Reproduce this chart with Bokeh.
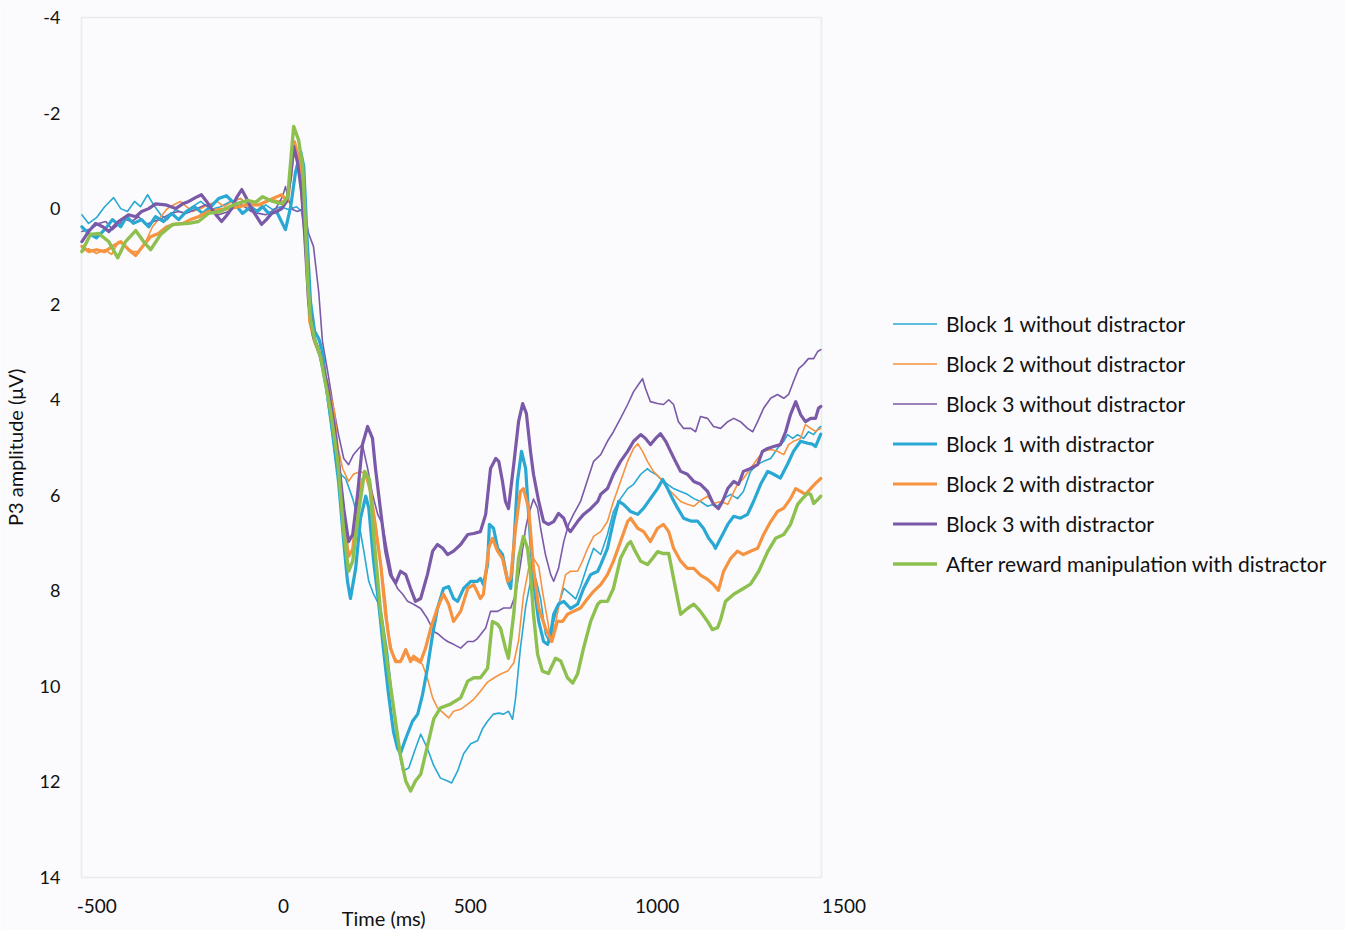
from bokeh.plotting import figure
from bokeh.models import (Range1d, FixedTicker, BoxAnnotation, Label, Legend,
                          LegendItem, ColumnDataSource)
from bokeh.embed import file_html
from bokeh.resources import INLINE

# Grand-average P3 waveforms: (time in ms, amplitude in microvolts)
block1_without = [(-540,0.13),(-522,0.31),(-501,0.19),(-479,-0.04),(-455,-0.23),(-436,0.00),(-418,0.06),(-399,-0.15),(-383,-0.04),(-364,-0.29),(-348,-0.08),(-329,0.13),(-311,0.23),(-289,0.02),(-268,0.10),(-244,-0.04),(-222,-0.15),(-195,0.02),(-169,-0.04),(-142,-0.15),(-115,-0.21),(-88,-0.04),(-67,0.06),(-48,-0.08),(-29,0.02),(-8,-0.04),(13,0.02),(35,-0.04),(48,0.06),(56,0.48),(64,1.53),(72,2.36),(86,2.74),(99,3.20),(112,3.72),(126,4.46),(139,5.25),(153,5.56),(166,5.65),(185,6.07),(201,6.55),(214,7.13),(228,7.80),(241,8.07),(260,8.36),(278,9.27),(292,10.31),(305,11.21),(319,11.77),(335,11.71),(353,11.30),(367,11.00),(385,11.30),(402,11.66),(420,11.92),(439,11.98),(450,12.02),(466,11.77),(482,11.41),(501,11.20),(519,11.14),(533,10.88),(546,10.73),(562,10.58),(576,10.56),(589,10.58),(602,10.52),(613,10.69),(621,10.25),(634,9.20),(648,8.33),(661,7.80),(675,7.74),(688,8.16),(701,8.91),(712,9.07),(723,8.64),(733,8.36),(750,7.95),(768,8.07),(782,8.17),(795,7.91),(814,7.45),(830,7.11),(849,7.24),(867,6.82),(883,6.34),(902,6.07),(921,5.86),(937,5.77),(956,5.56),(974,5.44),(982,5.50),(996,5.56),(1009,5.65),(1028,5.77),(1044,5.86),(1063,5.92),(1081,5.98),(1098,6.07),(1116,6.13),(1135,6.23),(1151,6.19),(1162,6.23),(1178,6.07),(1197,5.98),(1215,6.07),(1231,5.92),(1250,5.50),(1269,5.35),(1285,5.29),(1304,5.23),(1322,5.02),(1339,4.87),(1349,4.73),(1363,4.81),(1376,4.73),(1392,4.81),(1405,4.67),(1419,4.73),(1432,4.60),(1438,4.56)]

block2_without = [(-540,0.90),(-522,0.84),(-501,0.94),(-479,0.86),(-460,0.96),(-442,0.69),(-423,0.79),(-404,0.90),(-388,0.90),(-369,0.69),(-351,0.38),(-329,0.17),(-311,0.00),(-294,-0.08),(-276,-0.15),(-260,-0.04),(-244,0.06),(-222,0.00),(-201,-0.08),(-179,-0.15),(-158,-0.04),(-137,-0.15),(-115,-0.21),(-94,-0.04),(-72,0.06),(-51,-0.15),(-29,-0.19),(-8,-0.15),(8,-0.19),(27,-1.19),(40,-0.88),(51,0.06),(59,0.69),(70,2.32),(80,2.74),(94,2.89),(107,3.41),(126,4.04),(142,4.87),(158,5.44),(174,5.71),(187,5.56),(206,5.50),(220,5.56),(233,5.92),(246,6.55),(260,7.38),(273,8.22),(281,8.91),(292,9.33),(305,9.48),(319,9.43),(327,9.27),(340,9.41),(359,9.48),(372,9.54),(385,9.83),(399,10.24),(412,10.45),(428,10.56),(442,10.66),(455,10.52),(474,10.48),(493,10.37),(509,10.27),(527,10.10),(546,9.91),(562,9.83),(581,9.74),(600,9.68),(616,9.51),(629,9.05),(642,8.11),(656,7.53),(669,7.32),(683,7.49),(693,8.01),(707,8.63),(715,9.01),(728,8.68),(742,8.11),(755,7.66),(768,7.59),(787,7.59),(800,7.38),(814,7.11),(830,6.86),(849,6.76),(867,6.55),(883,6.13),(902,5.71),(921,5.29),(937,5.02),(948,4.92),(961,5.08),(974,5.29),(990,5.50),(1009,5.65),(1028,5.86),(1044,5.98),(1063,6.13),(1081,6.19),(1098,6.23),(1116,6.11),(1135,6.02),(1151,6.17),(1170,6.13),(1189,6.19),(1202,5.98),(1215,5.77),(1231,5.65),(1250,5.44),(1269,5.23),(1285,5.08),(1304,5.04),(1322,5.08),(1339,5.15),(1352,4.94),(1365,4.87),(1384,4.81),(1397,4.52),(1411,4.60),(1424,4.66),(1438,4.60)]

block3_without = [(-540,0.48),(-514,0.42),(-495,0.31),(-476,0.27),(-458,0.44),(-442,0.33),(-423,0.23),(-407,0.27),(-388,0.17),(-369,0.33),(-348,0.27),(-327,0.21),(-302,0.10),(-281,0.06),(-260,0.10),(-236,0.02),(-209,-0.08),(-193,0.00),(-174,0.13),(-147,0.06),(-128,-0.04),(-112,-0.08),(-86,0.06),(-67,0.10),(-48,0.13),(-21,0.00),(-3,-0.25),(5,-0.46),(13,-0.19),(24,0.02),(37,0.06),(54,0.00),(67,0.52),(80,0.79),(94,1.74),(104,2.78),(118,3.41),(134,4.18),(147,4.73),(161,5.23),(174,5.36),(187,5.15),(201,5.02),(211,4.94),(225,5.44),(238,5.98),(252,6.40),(265,6.61),(278,7.18),(292,7.74),(305,7.95),(319,8.07),(332,8.22),(348,8.28),(367,8.37),(385,8.58),(402,8.85),(415,8.91),(428,9.00),(439,9.06),(455,9.12),(474,9.20),(493,9.06),(509,9.06),(519,9.00),(541,8.78),(554,8.43),(573,8.43),(589,8.36),(608,8.36),(621,8.07),(634,7.45),(648,6.69),(656,6.40),(669,6.08),(680,6.27),(688,6.69),(701,7.24),(715,7.66),(723,7.80),(736,7.53),(750,6.97),(763,6.61),(776,6.40),(795,6.13),(814,5.67),(830,5.29),(849,5.15),(867,4.87),(883,4.67),(902,4.39),(921,4.10),(937,3.83),(950,3.68),(961,3.56),(969,3.77),(982,4.04),(1001,4.08),(1017,4.10),(1031,4.00),(1044,4.10),(1057,4.46),(1071,4.60),(1090,4.60),(1103,4.67),(1116,4.35),(1135,4.39),(1151,4.56),(1170,4.60),(1189,4.46),(1205,4.39),(1223,4.46),(1242,4.60),(1256,4.67),(1269,4.46),(1285,4.18),(1304,3.97),(1322,3.89),(1339,3.97),(1352,3.89),(1365,3.62),(1379,3.35),(1392,3.26),(1405,3.14),(1419,3.14),(1430,2.99),(1438,2.95)]

block1_with = [(-540,0.38),(-522,0.52),(-501,0.61),(-479,0.44),(-458,0.23),(-436,0.38),(-420,0.17),(-402,0.31),(-380,0.23),(-361,0.38),(-343,0.17),(-321,0.27),(-300,0.10),(-281,0.23),(-260,0.06),(-238,-0.04),(-217,0.10),(-195,-0.04),(-174,-0.21),(-153,-0.27),(-131,-0.10),(-110,0.10),(-88,-0.04),(-72,0.06),(-56,-0.04),(-40,0.10),(-19,0.06),(5,0.44),(19,-0.04),(32,-0.77),(46,-1.19),(54,-0.88),(62,0.48),(72,1.95),(83,2.57),(94,2.72),(104,2.99),(118,3.93),(134,4.87),(147,5.71),(161,6.97),(171,7.80),(179,8.16),(193,7.53),(206,6.48),(220,6.02),(228,6.27),(241,7.38),(254,8.22),(268,9.27),(281,10.17),(294,10.94),(305,11.30),(313,11.40),(327,11.09),(345,10.73),(359,10.58),(372,10.17),(385,9.62),(399,8.91),(412,8.37),(428,7.95),(442,7.91),(455,8.16),(466,8.22),(482,7.95),(501,7.80),(519,7.80),(527,7.74),(535,7.87),(546,7.45),(551,6.61),(562,6.69),(573,7.11),(586,7.24),(600,7.80),(608,7.95),(616,7.11),(626,5.71),(637,5.08),(648,5.44),(656,6.40),(669,7.80),(683,8.64),(696,9.06),(707,9.12),(715,8.91),(723,8.49),(736,8.28),(750,8.22),(768,8.37),(787,8.28),(803,7.95),(822,7.66),(841,7.59),(849,7.45),(867,7.11),(883,6.54),(897,6.13),(910,6.19),(929,6.34),(948,6.40),(964,6.27),(982,6.07),(1001,5.86),(1015,5.67),(1028,5.86),(1041,6.07),(1055,6.27),(1071,6.48),(1090,6.54),(1108,6.54),(1124,6.69),(1138,6.90),(1151,7.03),(1156,7.11),(1170,6.90),(1189,6.61),(1205,6.44),(1223,6.48),(1242,6.40),(1258,6.13),(1277,5.77),(1296,5.50),(1312,5.56),(1330,5.64),(1349,5.35),(1365,5.08),(1384,4.87),(1403,4.91),(1416,4.93),(1424,4.98),(1438,4.72)]

block2_with = [(-540,0.79),(-522,0.90),(-501,0.86),(-479,0.90),(-458,0.79),(-436,0.69),(-415,0.86),(-396,0.98),(-377,0.79),(-356,0.59),(-335,0.52),(-313,0.38),(-292,0.33),(-270,0.31),(-249,0.23),(-228,0.17),(-201,0.06),(-174,0.02),(-147,0.00),(-120,-0.04),(-94,-0.08),(-67,-0.08),(-46,-0.15),(-24,-0.23),(-5,-0.29),(11,-0.15),(29,-1.40),(43,-0.98),(54,0.17),(62,1.11),(70,2.36),(83,2.78),(99,3.10),(118,3.72),(134,4.25),(153,5.77),(166,6.82),(174,7.28),(185,7.13),(198,6.23),(211,5.67),(220,5.56),(233,5.92),(241,6.40),(260,7.45),(273,8.49),(286,9.20),(300,9.48),(313,9.48),(327,9.23),(340,9.48),(348,9.37),(367,9.48),(380,9.20),(394,8.78),(412,8.36),(428,8.07),(442,8.28),(455,8.64),(474,8.43),(493,7.95),(509,7.87),(527,8.16),(535,8.07),(549,7.11),(559,6.90),(573,7.17),(586,7.32),(600,7.80),(608,7.74),(621,6.69),(634,5.92),(642,5.86),(656,6.27),(669,7.53),(683,8.36),(701,8.78),(718,9.06),(733,8.64),(747,8.64),(760,8.49),(776,8.43),(795,8.36),(814,8.16),(830,8.01),(849,7.87),(867,7.66),(883,7.38),(902,6.97),(921,6.55),(929,6.48),(948,6.69),(964,6.76),(982,6.97),(1001,6.69),(1017,6.61),(1031,6.76),(1044,7.11),(1063,7.38),(1081,7.53),(1098,7.53),(1116,7.67),(1135,7.76),(1151,7.87),(1164,7.99),(1178,7.59),(1197,7.32),(1215,7.17),(1231,7.24),(1250,7.17),(1269,7.11),(1285,6.82),(1304,6.55),(1322,6.34),(1339,6.27),(1357,6.07),(1371,5.86),(1384,5.92),(1397,5.98),(1411,5.86),(1424,5.75),(1438,5.65)]

block3_with = [(-540,0.69),(-522,0.48),(-503,0.31),(-484,0.38),(-468,0.48),(-442,0.27),(-415,0.13),(-396,0.17),(-380,0.06),(-361,0.00),(-343,-0.10),(-316,-0.08),(-289,0.00),(-270,-0.10),(-254,-0.15),(-236,-0.23),(-220,-0.29),(-206,-0.15),(-193,0.00),(-179,0.15),(-166,0.27),(-153,0.15),(-139,0.00),(-126,-0.23),(-112,-0.40),(-99,-0.21),(-86,0.00),(-72,0.17),(-59,0.33),(-46,0.23),(-32,0.10),(-19,0.06),(-5,0.00),(8,-0.15),(19,-0.67),(27,-1.30),(37,-0.98),(48,-0.36),(56,0.48),(67,1.95),(80,2.68),(99,3.10),(118,3.72),(134,4.46),(147,5.29),(161,6.28),(174,6.97),(185,6.82),(198,5.98),(211,4.94),(225,4.56),(238,4.81),(246,5.44),(260,6.34),(273,7.17),(286,7.66),(300,7.84),(313,7.59),(327,7.66),(340,7.95),(353,8.22),(367,8.16),(385,7.66),(399,7.17),(412,7.03),(426,7.11),(439,7.24),(455,7.17),(474,7.03),(493,6.82),(509,6.80),(527,6.76),(541,6.40),(554,5.44),(568,5.23),(576,5.29),(586,5.71),(594,6.13),(602,6.28),(616,5.36),(629,4.46),(640,4.08),(650,4.29),(661,5.08),(669,5.56),(683,6.13),(696,6.55),(709,6.61),(723,6.55),(736,6.38),(750,6.48),(760,6.69),(768,6.76),(787,6.55),(803,6.40),(822,6.28),(841,6.13),(849,5.98),(867,5.86),(883,5.56),(902,5.29),(921,5.08),(937,4.87),(956,4.73),(969,4.81),(982,4.94),(996,4.81),(1009,4.71),(1023,4.87),(1036,5.08),(1049,5.29),(1063,5.50),(1081,5.56),(1098,5.71),(1116,5.77),(1135,5.92),(1151,6.19),(1164,6.28),(1175,6.13),(1189,5.86),(1205,5.71),(1218,5.77),(1231,5.50),(1250,5.44),(1269,5.36),(1282,5.08),(1296,5.02),(1312,4.98),(1330,4.94),(1344,4.67),(1357,4.31),(1371,4.04),(1384,4.31),(1397,4.46),(1411,4.39),(1424,4.39),(1432,4.18),(1438,4.14)]

after_reward_with = [(-540,0.90),(-517,0.54),(-495,0.52),(-468,0.69),(-444,1.03),(-423,0.69),(-396,0.46),(-375,0.69),(-356,0.86),(-329,0.54),(-297,0.33),(-254,0.31),(-228,0.27),(-201,0.10),(-169,0.06),(-128,-0.10),(-96,-0.17),(-75,-0.13),(-56,-0.25),(-29,-0.15),(-3,-0.10),(11,-0.25),(27,-1.72),(40,-1.44),(51,-0.88),(59,0.42),(64,1.46),(72,2.30),(83,2.74),(99,3.10),(126,4.25),(145,5.29),(161,6.76),(174,7.59),(185,7.38),(201,6.34),(217,5.50),(230,5.67),(241,6.82),(260,8.47),(278,9.54),(294,10.42),(313,11.46),(327,11.98),(340,12.19),(353,11.98),(367,11.84),(385,11.25),(402,10.68),(420,10.45),(447,10.37),(474,10.24),(493,9.89),(509,9.82),(527,9.82),(546,9.62),(559,8.64),(573,8.70),(581,8.79),(594,9.20),(602,9.41),(616,8.49),(629,7.32),(642,6.86),(653,7.11),(661,7.66),(669,8.49),(680,9.33),(693,9.68),(709,9.73),(728,9.41),(742,9.47),(760,9.82),(774,9.93),(787,9.74),(803,9.20),(822,8.64),(841,8.28),(849,8.22),(867,8.22),(883,7.95),(902,7.32),(921,7.03),(929,6.97),(942,7.18),(956,7.38),(974,7.45),(988,7.32),(1001,7.18),(1017,7.22),(1031,7.22),(1044,7.74),(1063,8.49),(1081,8.37),(1098,8.28),(1116,8.43),(1135,8.64),(1148,8.81),(1162,8.77),(1170,8.60),(1183,8.22),(1205,8.07),(1231,7.95),(1250,7.86),(1272,7.59),(1296,7.18),(1317,6.90),(1339,6.82),(1357,6.61),(1376,6.19),(1389,6.07),(1403,5.96),(1411,5.98),(1419,6.17),(1430,6.09),(1438,6.02)]

x_ticks = [-500, 0, 500, 1000, 1500]
y_ticks = [-4, -2, 0, 2, 4, 6, 8, 10, 12, 14]

# extent of the boxed plotting area (recording window and amplitude scale)
T_START, T_END = -541, 1440
UV_TOP, UV_BOTTOM = -4, 14

CYAN, ORANGE, PURPLE, GREEN = "#29a8d3", "#f59340", "#7a5aa8", "#8dc04f"
BG = "#fbfbfd"
INK = "#111111"
FONT = "Lato"

series = [
    ("Block 1 without distractor", block1_without, CYAN, 1.6),
    ("Block 2 without distractor", block2_without, ORANGE, 1.6),
    ("Block 3 without distractor", block3_without, PURPLE, 1.6),
    ("Block 1 with distractor", block1_with, CYAN, 3.2),
    ("Block 2 with distractor", block2_with, ORANGE, 3.2),
    ("Block 3 with distractor", block3_with, PURPLE, 3.2),
    ("After reward manipulation with distractor", after_reward_with, GREEN, 3.4),
]

# The frame spans the whole canvas; axes are pinned to the box edges so that
# the legend and axis titles can sit around the box without being clipped.
W, H = 1345, 930
BOX_L, BOX_T = 81, 17
px_per_ms = (821 - BOX_L) / (T_END - T_START)
px_per_uv = (877 - BOX_T) / (UV_BOTTOM - UV_TOP)
x0 = T_START - BOX_L / px_per_ms
x1 = x0 + W / px_per_ms
y_top = UV_TOP - BOX_T / px_per_uv
y_bot = y_top + H / px_per_uv

p = figure(frame_width=W, frame_height=H,
           x_range=Range1d(x0, x1), y_range=Range1d(y_bot, y_top),
           min_border=0, output_backend="svg", toolbar_location=None)
p.background_fill_color = BG
p.border_fill_color = BG
p.outline_line_color = None
p.xgrid.visible = False
p.ygrid.visible = False

p.add_layout(BoxAnnotation(left=T_START, right=T_END, bottom=UV_BOTTOM, top=UV_TOP,
                           fill_color=None, line_color="#c4c8ce",
                           line_width=1.6, level="underlay"))

items = []
for name, pts, color, width in series:
    src = ColumnDataSource(data=dict(t=[a for a, _ in pts], uv=[b for _, b in pts]))
    r = p.line("t", "uv", source=src, line_color=color, line_width=width,
               line_join="round", line_cap="round")
    items.append(LegendItem(label=name, renderers=[r]))

for ax in (p.xaxis, p.yaxis):
    ax.axis_line_color = None
    ax.major_tick_line_color = None
    ax.minor_tick_line_color = None
    ax.major_tick_in = 0
    ax.major_tick_out = 0
    ax.minor_tick_in = 0
    ax.minor_tick_out = 0
    ax.major_label_text_font = FONT
    ax.major_label_text_color = INK

p.xaxis.fixed_location = UV_BOTTOM
p.yaxis.fixed_location = T_START
p.yaxis.bounds = (UV_TOP, UV_BOTTOM)
p.xaxis.ticker = FixedTicker(ticks=x_ticks)
p.yaxis.ticker = FixedTicker(ticks=y_ticks)
p.xaxis.major_label_overrides = {t: str(t) for t in x_ticks}
p.yaxis.major_label_overrides = {t: str(t) for t in y_ticks}
p.xaxis.major_label_text_font_size = "19px"
p.yaxis.major_label_text_font_size = "18px"
p.xaxis.major_label_standoff = 21
p.yaxis.major_label_standoff = 21

p.yaxis.axis_label = "P3 amplitude (\u03bcV)"
p.yaxis.axis_label_text_font = FONT
p.yaxis.axis_label_text_font_size = "20px"
p.yaxis.axis_label_text_font_style = "normal"
p.yaxis.axis_label_text_color = INK
p.yaxis.axis_label_standoff = 10

p.add_layout(Label(x=268, y=14.85, text="Time (ms)", text_align="center",
                   text_baseline="middle", text_font=FONT,
                   text_font_size="20px", text_color=INK))

legend = Legend(items=items, location=(893, 354), glyph_width=44,
                glyph_height=25, label_height=25, spacing=15, padding=0,
                margin=0, label_standoff=9, border_line_color=None,
                background_fill_alpha=0, label_text_font=FONT,
                label_text_font_size="21px", label_text_color=INK)
p.add_layout(legend, "center")

open("out.html", "w").write(file_html(p, INLINE))
